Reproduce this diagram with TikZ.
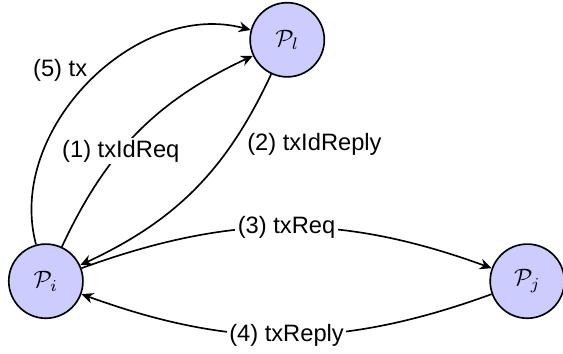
\documentclass[tikz,border=0pt]{standalone}
\usepackage{fontspec}
\setmainfont{Liberation Sans}
\usetikzlibrary{arrows.meta}
\begin{document}
\begin{tikzpicture}[>={Stealth[length=5pt,width=4.5pt]}, line width=0.7pt,
    party/.style={circle, draw, fill=blue!20, minimum size=1.1cm, inner sep=0pt},
    msg/.style={fill=white, inner sep=1pt}]
    \useasboundingbox (0,0) rectangle (8.35,-5.25);
    % Draw the parties
    \node[party] (Pl) at (4.26, -0.59) {$\mathcal{P}_l$};
    \node[party] (Pi) at (0.68, -4.17) {$\mathcal{P}_i$};
    \node[party] (Pj) at (7.82, -4.17) {$\mathcal{P}_j$};

    % Draw messages
    \draw[->] (Pi) to[bend left=20] node[msg, pos=0.4] {(1) txIdReq} (Pl);
    \draw[->] (Pl) to[bend left=20] node[right=3pt, pos=0.28] {(2) txIdReply} (Pi);
    \draw[->] (Pi) to[bend left=20] node[msg] {(3) txReq} (Pj);
    \draw[->] (Pj) to[bend left=20] node[msg] {(4) txReply} (Pi);
    \draw[->] (Pi) to[bend left=60] node[above left, pos=0.5, xshift=3pt, yshift=-3pt] {(5) tx} (Pl);
\end{tikzpicture}
\end{document}
